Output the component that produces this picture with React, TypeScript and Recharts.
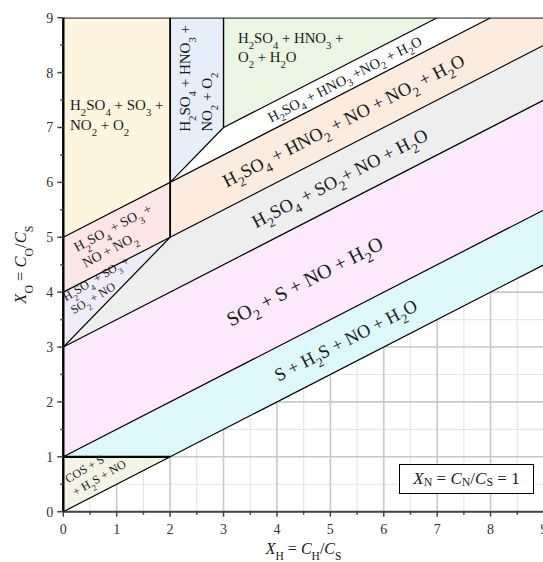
import {
  ComposedChart,
  Area,
  Line,
  XAxis,
  YAxis,
  CartesianGrid,
  ReferenceDot,
} from "recharts";

// X_H (x) vs X_O (y) product regions at X_N = 1
const AXIS_TICKS = [0, 0.5, 1, 1.5, 2, 2.5, 3, 3.5, 4, 4.5, 5, 5.5, 6, 6.5, 7, 7.5, 8, 8.5, 9];
const MAJOR = [0, 1, 2, 3, 4, 5, 6, 7, 8, 9];
const MINOR = [0.5, 1.5, 2.5, 3.5, 4.5, 5.5, 6.5, 7.5, 8.5];

// each zone is a range area: r = [lower bound, upper bound] at x
const yellowZone = [{ x: 0, r: [5, 9] }, { x: 2, r: [6, 9] }];
const blueZone = [{ x: 2, r: [6, 9] }, { x: 3, r: [7, 9] }];
const greenZone = [{ x: 3, r: [7, 9] }, { x: 7, r: [9, 9] }];
const whiteZone = [
  { x: 2, r: [6, 6] },
  { x: 3, r: [6.5, 7] },
  { x: 7, r: [8.5, 9] },
  { x: 8, r: [9, 9] },
];
const peachZone = [{ x: 2, r: [5, 6] }, { x: 8, r: [8, 9] }, { x: 9, r: [8.5, 9] }];
const pinkZone = [{ x: 0, r: [4, 5] }, { x: 2, r: [5, 6] }];
const lavenderZone = [{ x: 0, r: [3, 4] }, { x: 2, r: [5, 5] }];
const greyZone = [{ x: 0, r: [3, 3] }, { x: 2, r: [4, 5] }, { x: 9, r: [7.5, 8.5] }];
const magentaZone = [{ x: 0, r: [1, 3] }, { x: 9, r: [5.5, 7.5] }];
const cyanZone = [{ x: 0, r: [1, 1] }, { x: 2, r: [1, 2] }, { x: 9, r: [4.5, 5.5] }];
const beigeZone = [{ x: 0, r: [0, 1] }, { x: 2, r: [1, 1] }];

const ZONES = [
  { id: "yellow", data: yellowZone, fill: "#fef5e1" },
  { id: "blue", data: blueZone, fill: "#e6eff9" },
  { id: "green", data: greenZone, fill: "#ebf5e3" },
  { id: "white", data: whiteZone, fill: "#ffffff" },
  { id: "peach", data: peachZone, fill: "#fcebdf" },
  { id: "pink", data: pinkZone, fill: "#fde6e6" },
  { id: "lavender", data: lavenderZone, fill: "#efebf8" },
  { id: "grey", data: greyZone, fill: "#eeeeee" },
  { id: "magenta", data: magentaZone, fill: "#fde9fd" },
  { id: "cyan", data: cyanZone, fill: "#def7fb" },
  { id: "beige", data: beigeZone, fill: "#f4f4e6" },
];

// boundary segments [x1, y1, x2, y2, width]
const BOUNDARIES: number[][] = [
  [0, 0, 9, 4.5, 1.2],
  [0, 1, 9, 5.5, 1.2],
  [0, 1, 2, 1, 2.2],
  [0, 3, 9, 7.5, 1.2],
  [0, 3, 2, 5, 1.2],
  [0, 4, 9, 8.5, 1.2],
  [0, 5, 8, 9, 1.2],
  [2, 5, 2, 9, 1.8],
  [2, 6, 3, 7, 1.2],
  [3, 7, 3, 9, 1.4],
  [3, 7, 7, 9, 1.2],
  [0, 9, 9, 9, 1.8],
];

// labels along the diagonal bands (centred)
const BAND_LABELS = [
  { text: "H2SO4 + HNO3 +NO2 + H2O", x: 5.27, y: 7.88, size: 14.5 },
  { text: "H2SO4 + HNO2 + NO + NO2 + H2O", x: 5.25, y: 7.12, size: 18.5 },
  { text: "H2SO4 + SO2+ NO + H2O", x: 5.18, y: 6.07, size: 18.5 },
  { text: "SO2 + S + NO + H2O", x: 4.52, y: 4.2, size: 20 },
  { text: "S + H2S + NO + H2O", x: 5.29, y: 3.12, size: 18.3 },
];

// multi-line labels, anchored at the start of the first line
const BLOCK_LABELS = [
  { lines: ["H2SO4 + SO3 +", "NO2 + O2"], x: 0.125, y: 7.32, angle: 0, size: 15, lh: 20 },
  { lines: ["H2SO4 + HNO3 +", "NO2 + O2"], x: 2.37, y: 6.92, angle: -90, size: 15, lh: 22 },
  { lines: ["H2SO4 + HNO3 +", "O2 + H2O"], x: 3.27, y: 8.54, angle: 0, size: 14.8, lh: 19 },
  { lines: ["H2SO4 + SO3 +", "NO + NO2"], x: 0.256, y: 4.73, angle: -28, size: 13.8, lh: 18 },
  { lines: ["H2SO4 + SO3 +", "SO2 + NO"], x: 0.05, y: 3.83, angle: -31, size: 12, lh: 15 },
  { lines: ["COS + S", "+ H2S + NO"], x: 0.088, y: 0.52, angle: -30, size: 12, lh: 15 },
];

const BAND_ANGLE = -27.2;
const SERIF = "'Liberation Serif', 'Times New Roman', serif";
const INK = "#1a1a1a";

function chem(s: string) {
  return s.split(/(\d+)/).map((p, i) =>
    /^\d+$/.test(p) ? (
      <tspan key={i} baselineShift="sub" fontSize="72%">
        {p}
      </tspan>
    ) : (
      <tspan key={i}>{p}</tspan>
    )
  );
}

function XTick({ x, y, payload }: any) {
  const major = Number.isInteger(payload.value);
  return (
    <g>
      <line x1={x} x2={x} y1={y} y2={y + (major ? 5 : 3)} stroke="#444" strokeWidth={1.5} />
      {major && (
        <text x={x} y={y + 22} textAnchor="middle" fontFamily={SERIF} fontSize={14} fill="#333">
          {payload.value}
        </text>
      )}
    </g>
  );
}

function YTick({ x, y, payload }: any) {
  const major = Number.isInteger(payload.value);
  return (
    <g>
      <line x1={x - (major ? 6 : 3)} x2={x} y1={y} y2={y} stroke="#444" strokeWidth={1.5} />
      {major && (
        <text x={x - 10} y={y + 5} textAnchor="end" fontFamily={SERIF} fontSize={14} fill="#333">
          {payload.value}
        </text>
      )}
    </g>
  );
}

export default function App() {
  return (
    <div style={{ position: "absolute", left: 0, top: 0, width: 543, height: 562, overflow: "hidden", background: "#fff" }}>
      <ComposedChart
        width={620}
        height={562}
        margin={{ top: 17.7, right: 76, bottom: 20.3, left: 13.3 }}
      >
        <CartesianGrid verticalValues={MINOR} horizontalValues={MINOR} stroke="#e6e6e6" strokeWidth={1.2} />
        <CartesianGrid verticalValues={MAJOR} horizontalValues={MAJOR} stroke="#c8c8c8" strokeWidth={1.6} />
        <XAxis
          type="number"
          dataKey="x"
          domain={[0, 9]}
          ticks={AXIS_TICKS}
          interval={0}
          tickSize={0}
          tickMargin={0}
          tickLine={false}
          tick={<XTick />}
          height={30}
          axisLine={{ stroke: "#444", strokeWidth: 2 }}
          allowDataOverflow
          label={{
            content: () => (
              <text x={303.6} y={554} textAnchor="middle" fontFamily={SERIF} fontSize={16} fill={INK}>
                <tspan fontStyle="italic">X</tspan>
                <tspan baselineShift="sub" fontSize="72%">H</tspan>
                <tspan> = </tspan>
                <tspan fontStyle="italic">C</tspan>
                <tspan baselineShift="sub" fontSize="72%">H</tspan>
                <tspan>/</tspan>
                <tspan fontStyle="italic">C</tspan>
                <tspan baselineShift="sub" fontSize="72%">S</tspan>
              </text>
            ),
          }}
        />
        <YAxis
          type="number"
          domain={[0, 9]}
          ticks={AXIS_TICKS}
          interval={0}
          tickSize={0}
          tickMargin={0}
          tickLine={false}
          tick={<YTick />}
          width={50}
          axisLine={{ stroke: "#000", strokeWidth: 2.4 }}
          allowDataOverflow
          label={{
            content: () => (
              <text
                transform="translate(26, 264.7) rotate(-90)"
                textAnchor="middle"
                fontFamily={SERIF}
                fontSize={16.5}
                fill={INK}
              >
                <tspan fontStyle="italic">X</tspan>
                <tspan baselineShift="sub" fontSize="72%">O</tspan>
                <tspan> = </tspan>
                <tspan fontStyle="italic">C</tspan>
                <tspan baselineShift="sub" fontSize="72%">O</tspan>
                <tspan>/</tspan>
                <tspan fontStyle="italic">C</tspan>
                <tspan baselineShift="sub" fontSize="72%">S</tspan>
              </text>
            ),
          }}
        />

        {ZONES.map((z) => (
          <Area
            key={z.id}
            data={z.data}
            dataKey="r"
            type="linear"
            fill={z.fill}
            fillOpacity={1}
            stroke="none"
            dot={false}
            activeDot={false}
            isAnimationActive={false}
          />
        ))}

        {BOUNDARIES.map(([x1, y1, x2, y2, w], i) => (
          <Line
            key={i}
            data={[{ x: x1, y: y1 }, { x: x2, y: y2 }]}
            dataKey="y"
            type="linear"
            stroke="#000"
            strokeWidth={w}
            dot={false}
            activeDot={false}
            isAnimationActive={false}
          />
        ))}

        {BAND_LABELS.map((l, i) => (
          <ReferenceDot
            key={"b" + i}
            x={l.x}
            y={l.y}
            r={0}
            shape={(p: any) => (
              <text
                transform={`translate(${p.cx}, ${p.cy}) rotate(${BAND_ANGLE})`}
                textAnchor="middle"
                dominantBaseline="central"
                fontFamily={SERIF}
                fontSize={l.size}
                fill={INK}
              >
                {chem(l.text)}
              </text>
            )}
          />
        ))}

        {BLOCK_LABELS.map((l, i) => (
          <ReferenceDot
            key={"k" + i}
            x={l.x}
            y={l.y}
            r={0}
            shape={(p: any) => (
              <g transform={`translate(${p.cx}, ${p.cy}) rotate(${l.angle})`}>
                {l.lines.map((line, j) => (
                  <text key={j} x={0} y={j * l.lh} fontFamily={SERIF} fontSize={l.size} fill={INK}>
                    {chem(line)}
                  </text>
                ))}
              </g>
            )}
          />
        ))}
      </ComposedChart>

      <div
        style={{
          position: "absolute",
          left: 399,
          top: 464,
          width: 133,
          height: 28,
          border: "1px solid #000",
          background: "#fff",
          fontFamily: SERIF,
          fontSize: 17,
          color: INK,
          lineHeight: "28px",
          textAlign: "center",
        }}
      >
        <i>X</i>
        <sub style={{ fontSize: "70%", verticalAlign: "-0.2em" }}>N</sub> = <i>C</i>
        <sub style={{ fontSize: "70%", verticalAlign: "-0.2em" }}>N</sub>/<i>C</i>
        <sub style={{ fontSize: "70%", verticalAlign: "-0.2em" }}>S</sub> = 1
      </div>
    </div>
  );
}
